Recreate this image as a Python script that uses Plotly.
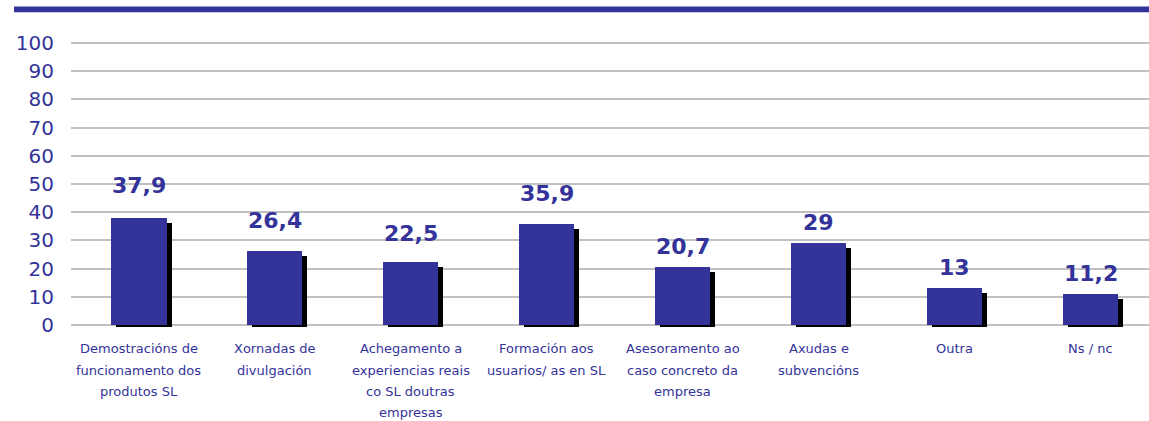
import plotly.graph_objects as go

categories = [
    "Demostracións de<br>funcionamento dos<br>produtos SL",
    "Xornadas de<br>divulgación",
    "Achegamento a<br>experiencias reais<br>co SL doutras<br>empresas",
    "Formación aos<br>usuarios/ as en SL",
    "Asesoramento ao<br>caso concreto da<br>empresa",
    "Axudas e<br>subvencións",
    "Outra",
    "Ns / nc",
]
values = [37.9, 26.4, 22.5, 35.9, 20.7, 29, 13, 11.2]
value_labels = ["37,9", "26,4", "22,5", "35,9", "20,7", "29", "13", "11,2"]
y_ticks = [0, 10, 20, 30, 40, 50, 60, 70, 80, 90, 100]

# style
BLUE = "#333399"
label_gap_px = [24, 22, 20, 22, 12, 12, 12, 12]
x = list(range(len(categories)))
bar_w = 0.405
shadow_dx = 0.037
shadow_drop = 1.77
shadow_base = -0.7

fig = go.Figure()
fig.add_trace(go.Bar(
    x=x, y=[v - shadow_drop - shadow_base for v in values], base=shadow_base,
    width=bar_w, offset=-bar_w / 2 + shadow_dx,
    marker=dict(color="black", line=dict(width=0)), hoverinfo="skip", showlegend=False,
))
fig.add_trace(go.Bar(
    x=x, y=values, width=bar_w, offset=-bar_w / 2,
    marker=dict(color=BLUE, line=dict(width=0)), showlegend=False,
))

for xi, v, lab, gap in zip(x, values, value_labels, label_gap_px):
    fig.add_annotation(x=xi, y=v, text=lab, showarrow=False, xref="x", yref="y",
                       yanchor="bottom", yshift=gap - 6,
                       font=dict(family="DejaVu Sans", size=22, color=BLUE, weight="bold"))

for xi, cat in zip(x, categories):
    for i, line in enumerate(cat.split("<br>")):
        fig.add_annotation(x=xi, y=0, text=line, showarrow=False, xref="x", yref="y",
                           yanchor="middle", yshift=-(23.8 + 21.3 * i),
                           font=dict(family="DejaVu Sans", size=13, color=BLUE))

fig.add_shape(type="rect", xref="paper", yref="paper",
              x0=(14 - 71) / 1078, x1=1.0, y0=1.0962, y1=1.1163,
              fillcolor=BLUE, line=dict(width=0), layer="above")

fig.update_layout(
    width=1149, height=421,
    margin=dict(l=71, r=0, t=40, b=93),
    paper_bgcolor="white", plot_bgcolor="white",
    barmode="overlay", bargap=0,
    xaxis=dict(range=[-0.5, 7.43], showticklabels=False, showgrid=False,
               zeroline=False, showline=False, ticks=""),
    yaxis=dict(range=[-1, 101], tickvals=y_ticks, showgrid=True, gridcolor="#c0c0c0",
               gridwidth=2, zeroline=False, showline=False, ticks="",
               ticklabelstandoff=16,
               tickfont=dict(family="DejaVu Sans", size=20, color=BLUE)),
)

fig.write_html("out.html", config={"displayModeBar": False},
               post_script="document.body.style.margin='0';document.body.style.overflow='hidden';")
